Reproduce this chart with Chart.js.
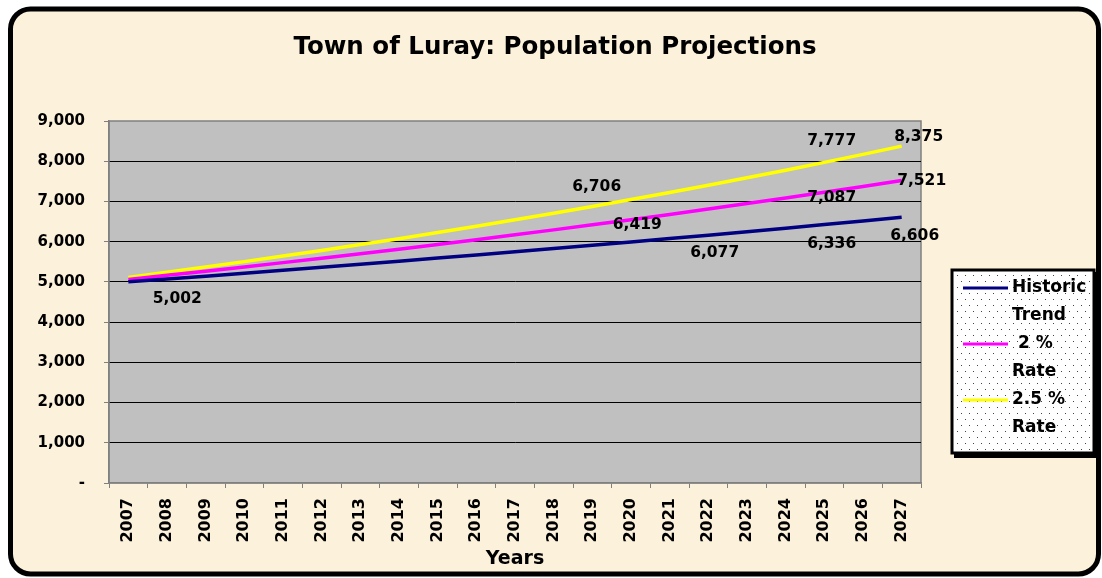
<!DOCTYPE html>
<html>
<head>
<meta charset="utf-8">
<title>Town of Luray: Population Projections</title>
<script src="https://cdn.jsdelivr.net/npm/chart.js@4.4.1/dist/chart.umd.min.js"></script>
<style>
  html, body { margin: 0; padding: 0; background: #fff; }
  #wrap { width: 1102px; height: 578px; }
</style>
</head>
<body>
<div id="wrap"><canvas id="popChart" width="1102" height="578"></canvas></div>
<script>
/* ── Data ─────────────────────────────────────────── */
const chartTitle = 'Town of Luray: Population Projections';
const years = ['2007','2008','2009','2010','2011','2012','2013','2014','2015','2016','2017',
               '2018','2019','2020','2021','2022','2023','2024','2025','2026','2027'];
const historicTrend = [5002,5072,5143,5215,5288,5362,5437,5513,5591,5669,5748,
                       5829,5910,5993,6077,6162,6248,6336,6424,6514,6606];
const rate2 = [5061,5163,5266,5371,5479,5588,5700,5814,5930,6049,6170,
               6293,6419,6547,6678,6812,6948,7087,7229,7373,7521];
const rate25 = [5111,5239,5370,5504,5642,5783,5927,6075,6227,6383,6543,
                6706,6874,7046,7222,7402,7587,7777,7971,8171,8375];
const seriesNames = ['Historic Trend', ' 2 % Rate', '2.5 % Rate'];
const legendLines = [['Historic', 'Trend'], [' 2 %', 'Rate'], ['2.5 %', 'Rate']];
const yMax = 9000;
const yStep = 1000;

// which points carry a value label, and where the label sits relative to the point
const labelSpots = [
  { ds: 0, i: 0,  dx: 49, dy: 17 },
  { ds: 0, i: 14, dx: 45, dy: 14 },
  { ds: 0, i: 17, dx: 46, dy: 16 },
  { ds: 0, i: 20, dx: 13, dy: 19 },
  { ds: 1, i: 12, dx: 45, dy: 0 },
  { ds: 1, i: 17, dx: 46, dy: 0 },
  { ds: 1, i: 20, dx: 20, dy: 0 },
  { ds: 2, i: 11, dx: 43, dy: -26 },
  { ds: 2, i: 17, dx: 46, dy: -29 },
  { ds: 2, i: 20, dx: 17, dy: -9 },
];

const FONT = 'DejaVu Sans';
const fmt = v => v.toLocaleString('en-US');

/* ── Frame, plot background, title ───────────────── */
const framePlugin = {
  id: 'frame',
  beforeDraw(chart) {
    const { ctx, chartArea: a } = chart;
    ctx.save();
    ctx.fillStyle = '#fff';
    ctx.fillRect(0, 0, chart.width, chart.height);
    ctx.beginPath();
    ctx.roundRect(10.5, 9, 1088, 565, 20);
    ctx.fillStyle = '#fcf1da';
    ctx.fill();
    ctx.lineWidth = 5;
    ctx.strokeStyle = '#000';
    ctx.stroke();

    ctx.fillStyle = '#c0c0c0';
    ctx.fillRect(a.left, a.top, a.right - a.left, a.bottom - a.top);
    ctx.lineWidth = 1.5;
    ctx.strokeStyle = '#808080';
    ctx.strokeRect(a.left, a.top, a.right - a.left, a.bottom - a.top);

    ctx.fillStyle = '#000';
    ctx.font = 'bold 24.5px "' + FONT + '"';
    ctx.textAlign = 'center';
    ctx.textBaseline = 'middle';
    ctx.fillText(chartTitle, 555, 48);
    ctx.restore();
  }
};

/* ── Value labels ────────────────────────────────── */
const valueLabels = {
  id: 'valueLabels',
  afterDatasetsDraw(chart) {
    const { ctx } = chart;
    ctx.save();
    ctx.font = 'bold 15.5px "' + FONT + '"';
    ctx.fillStyle = '#000';
    ctx.textAlign = 'center';
    ctx.textBaseline = 'middle';
    labelSpots.forEach(s => {
      const pt = chart.getDatasetMeta(s.ds).data[s.i];
      const v = chart.data.datasets[s.ds].data[s.i];
      ctx.fillText(fmt(v), pt.x + s.dx, pt.y + s.dy);
    });
    ctx.restore();
  }
};

/* ── Legend box (dotted fill, two-line entries) ───── */
const boxLegend = {
  id: 'boxLegend',
  afterDraw(chart) {
    const { ctx } = chart;
    const bx = 952, by = 270, bw = 142, bh = 183;
    ctx.save();
    ctx.fillStyle = '#000';
    ctx.fillRect(bx + 2, by + 2, bw + 2, bh + 3);
    ctx.fillStyle = '#fff';
    ctx.fillRect(bx, by, bw, bh);
    ctx.fillStyle = '#444';
    let row = 0;
    for (let y = by + 5; y < by + bh - 3; y += 6, row++) {
      for (let x = bx + 5 + (row % 2) * 4; x < bx + bw - 3; x += 8) {
        ctx.fillRect(x, y, 1, 1);
      }
    }
    ctx.lineWidth = 3;
    ctx.strokeStyle = '#000';
    ctx.strokeRect(bx, by, bw, bh);

    ctx.font = 'bold 17px "' + FONT + '"';
    ctx.textAlign = 'left';
    ctx.textBaseline = 'middle';
    chart.data.datasets.forEach((ds, k) => {
      const y = 288 + k * 56;
      ctx.strokeStyle = ds.borderColor;
      ctx.lineWidth = 3;
      ctx.beginPath();
      ctx.moveTo(963, y);
      ctx.lineTo(1008, y);
      ctx.stroke();
      ctx.fillStyle = '#000';
      legendLines[k].forEach((t, j) => ctx.fillText(t, 1012, y + j * 28));
    });
    ctx.restore();
  }
};

/* ── Chart ───────────────────────────────────────── */
new Chart(document.getElementById('popChart'), {
  type: 'line',
  data: {
    labels: years,
    datasets: [
      { label: seriesNames[0], data: historicTrend, borderColor: '#000080' },
      { label: seriesNames[1], data: rate2,         borderColor: '#ff00ff' },
      { label: seriesNames[2], data: rate25,        borderColor: '#ffff00' },
    ].map(d => ({ ...d, borderWidth: 3.5, pointRadius: 0, tension: 0, fill: false }))
  },
  options: {
    responsive: false,
    devicePixelRatio: 1,
    animation: false,
    layout: { padding: { top: 121, right: 181, left: 0, bottom: 0 } },
    plugins: {
      legend: { display: false },
      title: { display: false },
      tooltip: { enabled: false }
    },
    scales: {
      x: {
        offset: true,
        afterFit: s => { s.height = 95; },
        grid: { offset: true, drawOnChartArea: false, drawTicks: true, tickLength: 5, color: '#808080' },
        border: { color: '#808080', width: 1.5 },
        ticks: {
          autoSkip: false, minRotation: 90, maxRotation: 90, padding: 10,
          color: '#000', font: { family: FONT, size: 16, weight: 'bold' }
        },
        title: {
          display: true, text: 'Years', color: '#000',
          font: { family: FONT, size: 19, weight: 'bold' },
          padding: { top: 0, bottom: 8 }
        }
      },
      y: {
        min: 0, max: yMax,
        afterFit: s => { s.width = 109; },
        grid: {
          color: c => (c.tick && (c.tick.value === 0 || c.tick.value === yMax)) ? 'rgba(0,0,0,0)' : '#000',
          tickColor: '#808080', tickLength: 5, lineWidth: 1
        },
        border: { color: '#808080', width: 1.5 },
        ticks: {
          stepSize: yStep, padding: 19, color: '#000',
          font: { family: FONT, size: 15, weight: 'bold' },
          callback: v => v === 0 ? '-' : fmt(v)
        }
      }
    }
  },
  plugins: [framePlugin, valueLabels, boxLegend]
});
</script>
</body>
</html>
